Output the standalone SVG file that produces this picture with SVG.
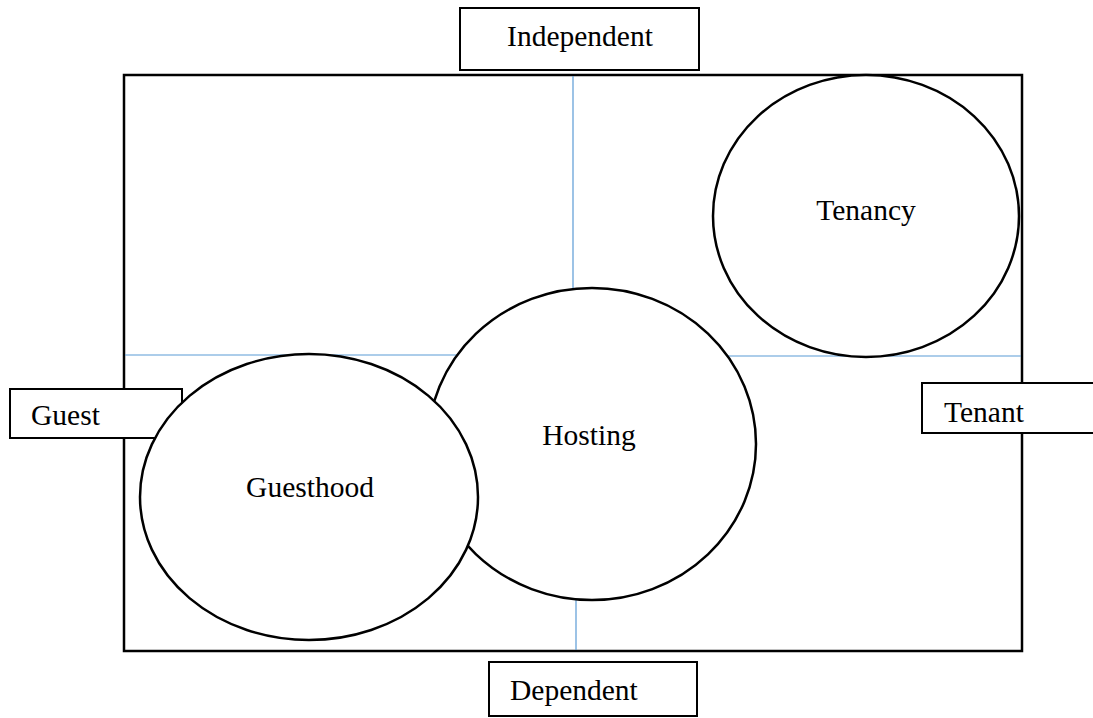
<svg xmlns="http://www.w3.org/2000/svg" width="1093" height="718" viewBox="0 0 1093 718">
<style>
.box{fill:#fff;stroke:#000;stroke-width:2}
.ell{fill:#fff;stroke:#000;stroke-width:2.5}
.axis{stroke:#5b9bd5;stroke-width:1.2;fill:none}
text{font-family:"Liberation Serif","Times New Roman",serif;font-size:29.5px;fill:#000}
</style>
<rect x="0" y="0" width="1093" height="718" fill="#fff"/>
<rect id="frame" x="124" y="75" width="898" height="576" fill="none" stroke="#000" stroke-width="2.5"/>
<g id="connectors">
<line class="axis" x1="573" y1="76" x2="573" y2="290"/>
<line class="axis" x1="576" y1="598" x2="576" y2="650"/>
<line class="axis" x1="125" y1="355" x2="460" y2="355"/>
<line class="axis" x1="720" y1="356" x2="1021" y2="356"/>
</g>
<g id="independent"><rect class="box" x="460" y="8" width="239" height="62"/><text x="580" y="46" text-anchor="middle">Independent</text></g>
<g id="dependent"><rect class="box" x="489" y="662" width="208" height="54"/><text x="510" y="700">Dependent</text></g>
<g id="guest"><rect class="box" x="10" y="389" width="172" height="49"/><text x="31" y="425">Guest</text></g>
<g id="tenant"><rect class="box" x="922" y="383" width="180" height="50"/><text x="944" y="422">Tenant</text></g>
<g id="tenancy"><ellipse class="ell" cx="866" cy="216" rx="153" ry="141"/><text x="866" y="220" text-anchor="middle">Tenancy</text></g>
<g id="hosting"><ellipse class="ell" cx="592" cy="444" rx="164" ry="156"/><text x="589" y="445" text-anchor="middle">Hosting</text></g>
<g id="guesthood"><ellipse class="ell" cx="309" cy="497" rx="169" ry="143"/><text x="310" y="497" text-anchor="middle">Guesthood</text></g>
</svg>
